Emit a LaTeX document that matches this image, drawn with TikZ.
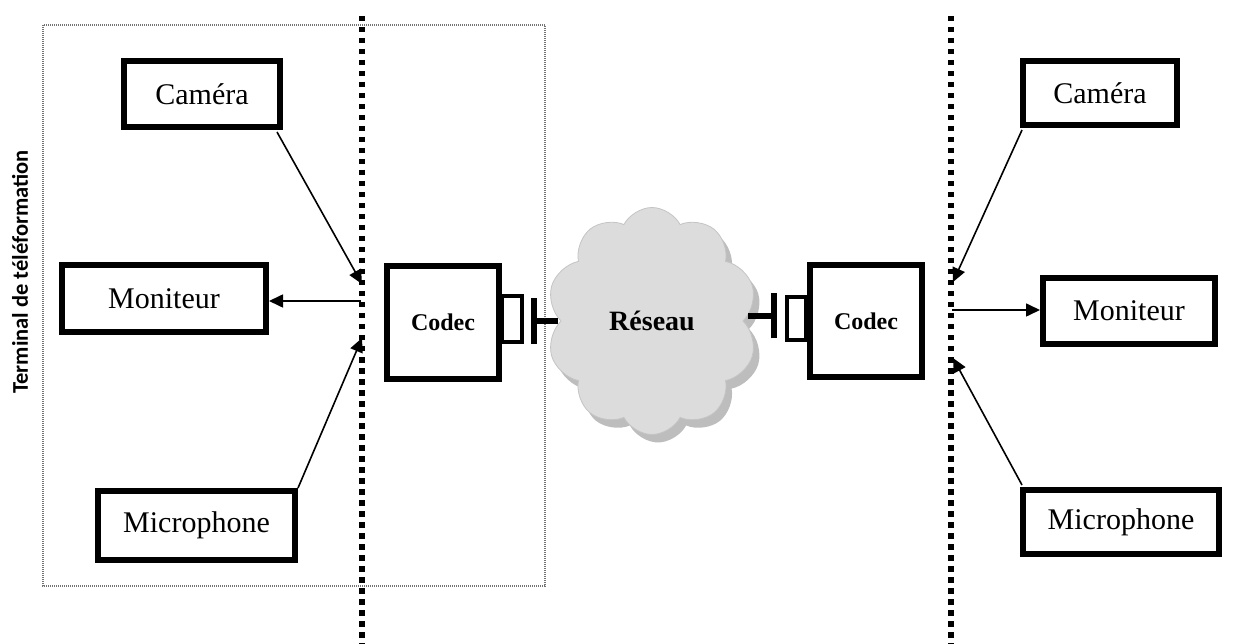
\documentclass[tikz,border=0pt]{standalone}
\usepackage{fontspec}
\setmainfont{Liberation Serif}
\newfontfamily\labelfont{Carlito}
\usetikzlibrary{arrows.meta,shapes.symbols,shadows}

\definecolor{cloudfill}{HTML}{DCDCDC}
\definecolor{cloudline}{HTML}{C4C4C4}
\definecolor{cloudshade}{HTML}{BDBDBD}

\tikzset{
  device/.style={draw, line width=6pt, rectangle, inner sep=0pt,
    font=\fontsize{30}{34}\selectfont},
  codecbox/.style={draw, line width=6pt, rectangle, inner sep=0pt,
    minimum width=112pt, minimum height=112pt,
    font=\bfseries\fontsize{24}{28}\selectfont},
  portbox/.style={draw, line width=4.5pt, rectangle, inner sep=0pt},
  boundary/.style={line width=5.5pt, dash pattern=on 5.5pt off 5.5pt},
  zone/.style={draw=black!55, line width=1.3pt, dash pattern=on 1pt off 1pt},
  signal/.style={line width=1.6pt, -{Triangle[length=14pt,width=13pt]}},
  tbar/.style={line width=6pt},
}

\begin{document}
\begin{tikzpicture}[x=1pt, y=-1pt]
\useasboundingbox (0,0) rectangle (1237,644);

% terminal area
\draw[zone] (43,25) rectangle (545,586);
\node[rotate=90, font=\labelfont\bfseries\fontsize{22.5}{26}\selectfont] (term) at (20,272) {Terminal de téléformation};

% boundaries of the two terminals
\coordinate (bLtop) at (362,16);
\coordinate (bLbot) at (362,644);
\coordinate (bRtop) at (951,16);
\coordinate (bRbot) at (951,644);
\draw[boundary] (bLtop) -- (bLbot);
\draw[boundary] (bRtop) -- (bRbot);

% left terminal peripherals
\node[device, minimum width=156pt, minimum height=66pt] (camL) at (202,94) {Caméra};
\node[device, minimum width=204pt, minimum height=67pt] (monL) at (164,298.5) {Moniteur};
\node[device, minimum width=197pt, minimum height=69pt] (micL) at (196.5,525.5) {Microphone};

% right terminal peripherals
\node[device, minimum width=154pt, minimum height=64pt] (camR) at (1100,93) {Caméra};
\node[device, minimum width=172pt, minimum height=66pt] (monR) at (1129,311) {Moniteur};
\node[device, minimum width=196pt, minimum height=64pt] (micR) at (1121,522) {Microphone};

% network
\node[cloud, cloud puffs=10, cloud puff arc=125, aspect=0.93,
      minimum width=211pt, minimum height=227pt, inner sep=0pt,
      fill=cloudfill, draw=cloudline, line width=0.8pt,
      drop shadow={shadow xshift=6pt, shadow yshift=-8pt, fill=cloudshade, draw=none, opacity=1},
      font=\bfseries\fontsize{28}{32}\selectfont] (net) at (652,321) {Réseau};

% codecs with their ports
\node[codecbox] (codecL) at (443,322.5) {Codec};
\node[portbox, minimum width=20pt, minimum height=46pt] (portL) at (512,319) {};
\node[codecbox] (codecR) at (866,321) {Codec};
\node[portbox, minimum width=19pt, minimum height=43pt] (portR) at (796.5,318.5) {};

% network attachments
\coordinate (attL) at (533.5,321);
\coordinate (attLend) at (558,321);
\draw[tbar] ([yshift=-23pt]attL) -- ([yshift=23pt]attL);
\draw[tbar] (attL) -- (attLend);
\coordinate (attR) at (774,316);
\coordinate (attRend) at (748,316);
\draw[tbar] ([yshift=-22.5pt]attR) -- ([yshift=22.5pt]attR);
\draw[tbar] (attR) -- (attRend);

% signal paths, left terminal
\coordinate (inCamL) at (362,284);
\coordinate (outMonL) at (361,301);
\coordinate (inMicL) at (362,338);
\draw[signal] (camL.south east) ++(-6,2) -- (inCamL);
\draw[signal] (outMonL) -- (outMonL -| monL.east);
\draw[signal] (micL.north east) -- (inMicL);

% signal paths, right terminal
\coordinate (inCamR) at (953,282);
\coordinate (outMonR) at (952,310);
\coordinate (inMicR) at (953,358);
\draw[signal] (camR.south west) ++(2,2) -- (inCamR);
\draw[signal] (outMonR) -- (outMonR -| monR.west);
\draw[signal] (micR.north west) ++(2,-2) -- (inMicR);
\end{tikzpicture}
\end{document}
